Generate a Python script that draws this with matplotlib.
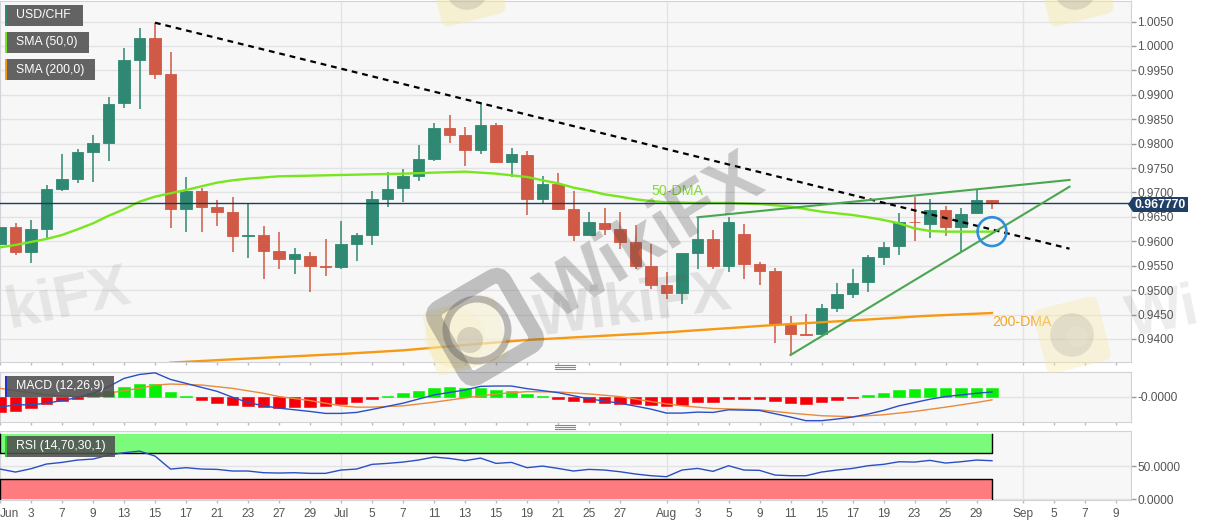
import numpy as np
import matplotlib
matplotlib.use('Agg')
import matplotlib.pyplot as plt
from matplotlib.patches import Rectangle, FancyBboxPatch, Circle, Polygon
from matplotlib.transforms import Affine2D

plt.rcParams['font.family'] = ['Liberation Sans', 'DejaVu Sans']

opens = [.95945,.96286,.95775,.96259,.97064,.97283,.97829,.9802,.98825,.99719,1.0017,.99433,.96655,.97037,.9671,.966,.96116,.96129,
         .95802,.95631,.95699,.95488,.95467,.95952,.96136,.9686,.97085,.97344,.97679,.98327,.98177,.97877,.98382,.97624,.97767,.96867,
         .97167,.96662,.96123,.96382,.96252,.95979,.95495,.95112,.94949,.95754,.96048,.95495,.96157,.95536,.95392,.94287,.94102,.94102,
         .94642,.94921,.9516,.95686,.95897,.96402,.96355,.96648,.963,.96573,.96839]
highs = [.96607,.96368,.96437,.97146,.97781,.97883,.98177,.98962,.99951,1.00361,1.00477,.99883,.97324,.97085,.96846,.96901,.96778,.9632,
         .96198,.95856,.95775,.96041,.96409,.96164,.97037,.97426,.97474,.97972,.98416,.98586,.98334,.98839,.98416,.97904,.97856,.97344,
         .97392,.97037,.96594,.96675,.96594,.96334,.95938,.95365,.95754,.96505,.96232,.96491,.96348,.95583,.95447,.94471,.94512,.9471,
         .9514,.95426,.95713,.95986,.96587,.96914,.96873,.96723,.96689,.97051,.96846]
lows = [.95891,.9572,.95563,.96061,.97037,.97201,.97221,.97651,.98737,.98716,.99317,.9628,.96184,.96198,.9632,.95788,.95652,.95222,
        .95426,.95324,.94956,.95297,.95426,.95604,.95918,.9671,.96812,.97228,.97645,.9802,.97549,.97781,.97597,.9731,.96532,.96757,
        .96641,.96,.96123,.96129,.9585,.9544,.95017,.94812,.9471,.95426,.95426,.95379,.95222,.95099,.93925,.93666,.94082,.94096,
        .94546,.94833,.94969,.95522,.95727,.96013,.96075,.96116,.95788,.96573,.96655]
closes = [.96286,.95775,.96252,.97064,.97276,.97829,.98013,.98818,.99713,1.0017,.99433,.96655,.97037,.9671,.966,.96109,.96123,.95809,
          .95631,.95734,.95502,.95474,.95952,.96136,.9686,.97078,.97344,.97679,.98327,.98177,.97877,.98382,.97624,.97781,.96867,.97167,
          .96669,.96123,.96396,.96259,.95986,.95495,.95112,.94949,.95754,.96048,.95495,.96396,.95536,.95392,.943,.94102,.94089,.94635,
          .94915,.95153,.95679,.95891,.96402,.96389,.96648,.963,.96559,.96839,.96777]

sma50_x = [0,1,3,4,5,6,7,8,9,10,11,12,13,14,15,16,18,20,22,24,26,28,30,32,33,34,35,36,37,38,39,40,41,42,43,44,45,47,49,51,53,55,56,57,58,59,60,61,62,64]
sma50_y = [.95877,.95925,.96048,.96129,.96245,.96368,.96522,.96655,.96812,.96914,.96983,.97051,.97126,.97201,.97249,.97283,.97331,.97344,
           .97358,.97372,.97385,.97406,.97426,.97385,.97351,.97317,.97249,.97187,.97099,.97037,.96962,.96914,.9686,.96825,.96798,.96792,.96785,
           .96785,.96764,.9671,.96607,.96539,.96491,.96437,.96368,.96266,.96211,.96198,.96198,.96198]
sma200_x = [11,15,22,26,30,34,43,50,55.5,59.6,64]
sma200_y = [.93515,.93584,.93693,.93768,.93877,.9398,.94136,.94287,.94389,.94471,.94532]

last_price = 0.96777
main_ticks = [.94,.945,.95,.955,.96,.965,.97,.975,.98,.985,.99,.995,1.0,1.005]

down_x = [10, 69]
down_y = [1.00476, .95849]
up_top_x = [45, 69]
up_top_y = [.96492, .97256]
up_low_x = [51, 69]
up_low_y = [.93672, .97118]

macd_hist = [-.0047,-.0044,-.0035,-.0022,-.0013,-.0007,.0011,.0019,.0031,.004,.0039,.0015,.0003,-.0009,-.0017,-.0024,-.0028,-.0031,
             -.0033,-.0032,-.003,-.0027,-.0022,-.0015,-.0006,.0004,.0012,.0018,.0026,.0029,.0027,.0028,.0021,.0018,.0008,.0003,
             -.0005,-.0011,-.0015,-.0017,-.002,-.0022,-.0026,-.0028,-.0023,-.0015,-.0014,-.0005,-.0005,-.0005,-.0013,-.0019,-.002,-.0016,
             -.001,-.0004,.0006,.0013,.0021,.0024,.0028,.0027,.0027,.0028,.0027]
macd_x = [0,1,2,3,4,5,6,7,8,9,10,11,12,14,15,16,17,18,20,21,22,23,24,26,28,30,31,32,33,34,36,38,40,42,43,44,45,46,47,49,50,51,52,53,54,55,56,57,58,59,60,61,63,64]
macd_y = [-.0031,-.0024,-.0024,-.0019,-.0011,-.0002,.0011,.0031,.0056,.0068,.0073,.0053,.0041,.0017,-.0001,-.0017,-.0027,-.0034,-.0044,-.005,
          -.005,-.0047,-.0038,-.0019,.0006,.0021,.0032,.0033,.0033,.0025,.0013,-.0006,-.0019,-.0037,-.0049,-.0049,-.0046,-.0047,-.0039,-.0041,
          -.0051,-.0061,-.0072,-.0072,-.0067,-.0061,-.0052,-.0041,-.0027,-.0017,-.0007,.0001,.0011,.0015]
signal_x = [0,1,3,5,6,7,8,9,10,11,13,15,17,18,20,22,23,24,26,28,30,32,34,36,38,40,42,43,44,46,49,51,53,55,57,59,61,63,64]
signal_y = [.0026,.0019,.0006,.0001,.0003,.0011,.0019,.0026,.0036,.0039,.0036,.0026,.0011,.0001,-.0011,-.0027,-.0031,-.0031,-.0027,-.0016,
            -.0003,.0009,.0016,.0015,.0009,.0001,-.0014,-.0021,-.0027,-.0035,-.0039,-.0049,-.0057,-.006,-.0054,-.0044,-.0031,-.0017,-.0009]

rsi = [45.9,41.3,46.4,53.6,56.1,59.7,61.2,67.3,70.9,73.4,65.8,45.9,48.0,45.9,45.4,42.9,42.9,40.3,39.8,40.3,39.3,39.3,44.4,45.9,53.1,
       54.6,56.6,59.7,64.3,62.2,58.7,62.7,54.6,56.1,48.0,50.5,46.9,42.9,45.4,44.4,41.8,38.3,35.7,34.2,44.4,46.9,42.4,51.0,44.4,43.9,
       36.7,35.7,35.7,41.3,44.4,46.9,51.0,53.1,57.1,56.6,59.2,55.1,57.1,59.7,58.7]

date_ticks = [0,2,4,6,8,10,12,14,16,18,20,22,24,26,28,30,32,34,36,38,40,43,45,47,49,51,53,55,57,59,61,63,66,68,70,72]
date_labels = ['Jun','3','7','9','13','15','17','21','23','27','29','Jul','5','7','11','13','15','19','21','25','27',
               'Aug','3','5','9','11','15','17','19','23','25','29','Sep','5','7','9']
month_ticks = [22, 43, 66]

W, H = 1207, 526
BG = '#f7f7f8'
GRID = '#e3e3e5'
EDGE = '#d2d2d8'
UP = '#2f8872'
DOWN = '#d05a45'
TXT = '#555555'


def panel(top, bottom):
    a = fig.add_axes([0, 1 - bottom / H, 1131 / W, (bottom - top) / H])
    a.set_facecolor(BG)
    a.set_xlim(0, 1131 / 15.5)
    for s in a.spines.values():
        s.set_color(EDGE)
    a.yaxis.tick_right()
    a.tick_params(axis='y', length=3.6, width=1, color='#999999', labelcolor=TXT, labelsize=8.6, pad=1)
    a.tick_params(axis='x', length=2.5, width=1, color='#bbbbbb', labelcolor=TXT, labelsize=8.6, pad=3.5)
    for m in month_ticks:
        a.axvline(m, color=GRID, lw=1, zorder=0)
    a.set_xticks(date_ticks)
    a.set_xticklabels([])
    return a


def logo(cx, cy, size, alpha, dark):
    tr = Affine2D().rotate_deg_around(cx, cy, -14) + over.transData
    s = size
    over.add_patch(FancyBboxPatch((cx - s / 2, cy - s / 2), s, s, boxstyle='round,pad=0,rounding_size=8',
                                  fc='#f6e9a8', ec='none', alpha=alpha, transform=tr, zorder=2))
    over.add_patch(Circle((cx, cy), s * 0.33, fc='#777070', ec='none', alpha=dark, zorder=3))
    over.add_patch(Circle((cx + s * 0.08, cy + s * 0.03), s * 0.16, fc='#f7f4ea', ec='none', alpha=dark, zorder=3))


fig = plt.figure(figsize=(W / 100, H / 100), dpi=100, facecolor='white')

# prix
ax = panel(1, 362)
ax.set_ylim(.93529, 1.0092)
ax.set_yticks(main_ticks)
ax.set_yticklabels(['%.4f' % v for v in main_ticks])
ax.grid(axis='y', color=GRID, lw=1)
ax.set_axisbelow(True)

x = np.arange(len(opens))
o, h, l, c = np.array(opens), np.array(highs), np.array(lows), np.array(closes)
cols = [UP if b >= a else DOWN for a, b in zip(o, c)]
ax.vlines(x, l, h, colors=cols, lw=1.1, zorder=2)
ax.bar(x, np.abs(c - o), bottom=np.minimum(o, c), width=0.77, color=cols, edgecolor=cols, lw=0.6, zorder=3)

ax.plot(sma200_x, sma200_y, color='#f59a12', lw=1.7, zorder=4)
ax.plot(sma50_x, sma50_y, color='#78e61c', lw=1.7, zorder=4)
ax.axhline(last_price, color='#1d3b63', lw=1, zorder=4)
ax.plot(down_x, down_y, color='black', lw=1.6, dashes=(2.6, 2.2), zorder=5)
ax.plot(up_top_x, up_top_y, color='#4ba650', lw=1.5, zorder=5)
ax.plot(up_low_x, up_low_y, color='#4ba650', lw=1.5, zorder=5)
ax.scatter([64], [sma50_y[-1]], s=430, facecolors='none', edgecolors='#2f8fd8', linewidths=1.9, zorder=6)
ax.text(42, .9703, '50-DMA', color='#7fe02a', fontsize=10.3, ha='left', va='center', zorder=6)
ax.text(64, .94354, '200-DMA', color='#f5a52a', fontsize=10.2, ha='left', va='center', zorder=6)

# macd
ax2 = panel(371.5, 422)
ax2.set_ylim(-.0076, .0077)
ax2.set_yticks([0])
ax2.set_yticklabels(['-0.0000'])
ax2.grid(axis='y', color=GRID, lw=1)
ax2.set_axisbelow(True)
hist_cols = ['#06f006' if v > 0 else '#f5000a' for v in macd_hist]
ax2.bar(x, macd_hist, width=0.77, color=hist_cols, edgecolor=hist_cols, lw=0.4, zorder=3)
ax2.plot(signal_x, signal_y, color='#e98a3c', lw=1, zorder=4)
ax2.plot(macd_x, macd_y, color='#2a4fc4', lw=1, zorder=5)

# rsi
ax3 = panel(431, 500)
ax3.set_ylim(-1.5, 104.2)
ax3.set_yticks([0, 50])
ax3.set_yticklabels(['0.0000', '50.0000'])
ax3.grid(axis='y', color=GRID, lw=1)
ax3.set_axisbelow(True)
ax3.fill_between([0, 64], 70, 100, color='#7bfb7b', lw=0, zorder=2)
ax3.fill_between([0, 64], 0, 30, color='#fe7b80', lw=0, zorder=2)
ax3.plot([64, 64, 0, 0], [100, 70, 70, 100], color='black', lw=1, zorder=3)
ax3.plot([0, 0, 64, 64], [0, 30, 30, 0], color='black', lw=1, zorder=3)
ax3.plot(x, rsi, color='#2a4fc4', lw=1, zorder=4)
ax3.set_xticklabels(date_labels)
ax3.get_xticklabels()[0].set_ha('left')

# filigrane et etiquettes, en pixels
over = fig.add_axes([0, 0, 1, 1], zorder=10)
over.set_xlim(0, W)
over.set_ylim(H, 0)
over.axis('off')
over.patch.set_alpha(0)

# logo central
over.add_patch(Circle((455, 338), 30, fc='#f6e9a8', ec='none', alpha=0.35, zorder=2))
tr1 = Affine2D().rotate_deg_around(468, 335, -14) + over.transData
over.add_patch(FancyBboxPatch((468 - 40, 335 - 33), 75, 66, boxstyle='round,pad=0,rounding_size=8',
                              fc='#f6e9a8', ec='none', alpha=0.4, transform=tr1, zorder=2))
over.add_patch(Circle((477, 330), 31, fc='#f8f6ee', ec='#666060', lw=5, alpha=0.42, zorder=3))
over.add_patch(Circle((470, 340), 13, fc='#777070', ec='none', alpha=0.25, zorder=3))
tr0 = Affine2D().rotate_deg_around(485, 327, -30) + over.transData
over.add_patch(FancyBboxPatch((485 - 40, 327 - 40), 80, 80, boxstyle='round,pad=0,rounding_size=10', fc='none',
                              ec='#555555', lw=11, alpha=0.34, transform=tr0, zorder=4))
logo(1072, 335, 66, 0.4, 0.16)
logo(1075, -12, 66, 0.45, 0.2)
logo(467, -12, 66, 0.45, 0.2)

over.text(652, 238, 'WikiFX', rotation=32, rotation_mode='anchor', fontsize=54, fontweight='bold', color='#444444',
          alpha=0.27, ha='center', va='center', zorder=4)
over.text(633, 307, 'WikiFX', rotation=8, rotation_mode='anchor', fontsize=43, fontweight='bold', color='#555555',
          alpha=0.14, ha='center', va='center', zorder=4)
over.text(68, 300, 'kiFX', rotation=12, rotation_mode='anchor', fontsize=43, fontweight='bold', color='#555555',
          alpha=0.11, ha='center', va='center', zorder=4)
over.text(1128, 322, 'Wi', rotation=12, rotation_mode='anchor', fontsize=43, fontweight='bold', color='#555555',
          alpha=0.11, ha='left', va='center', zorder=4)

label_names = ['USD/CHF', 'SMA (50,0)', 'SMA (200,0)', 'MACD (12,26,9)', 'RSI (14,70,30,1)']
label_strip = [UP, '#78e61c', '#f59a12', '#2233cc', '#35c435']
label_box = [(5, 5, 78), (5, 32, 84), (5, 59, 90), (5, 376, 109), (5, 436, 110)]
for name, col, (bx, by, bw) in zip(label_names, label_strip, label_box):
    over.add_patch(Rectangle((bx, by), bw, 21, fc='#4f4f4f', ec='none', alpha=0.88, zorder=7))
    over.add_patch(Rectangle((bx, by), 2, 21, fc=col, ec='none', zorder=8))
    over.text(bx + 11, by + 10.5, name, color='white', fontsize=8.8, ha='left', va='center', zorder=8)

over.add_patch(Polygon([(1128, 204.5), (1133, 197), (1188, 197), (1188, 212), (1133, 212)], fc='#1f3f66', ec='none', zorder=8))
over.text(1160.5, 204.5, '%.6f' % last_price, color='white', fontsize=8.8, fontweight='bold', ha='center', va='center', zorder=9)

for yy in (367.3, 427.3):
    for dy in (-2, 0, 2):
        over.plot([555, 575], [yy + dy, yy + dy], color='#888888', lw=0.8, zorder=8)
over.set_xlim(0, W)
over.set_ylim(H, 0)

fig.savefig('out.png', dpi=100)
